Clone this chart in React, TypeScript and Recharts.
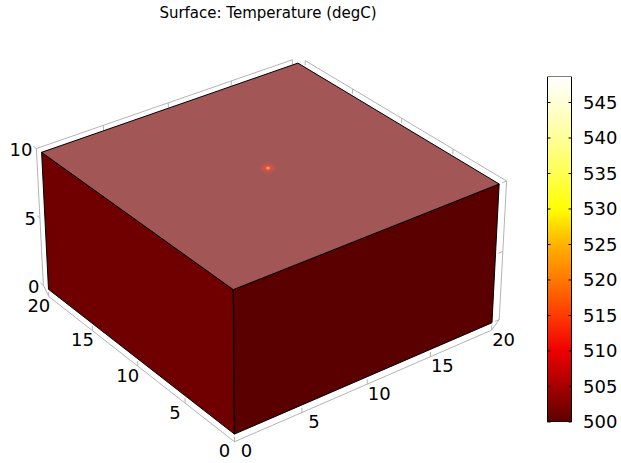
import { ComposedChart, Scatter, XAxis, YAxis, BarChart, Bar } from "recharts";

const W = 621;
const H = 463;

// block geometry
const xRange = [0, 20];
const yRange = [0, 20];
const zRange = [0, 10];

const xTicks = [0, 5, 10, 15, 20];
const yTicks = [0, 5, 10, 15, 20];
const zTicks = [0, 5, 10];

// point heat source on the top surface
const sourcePoint = [10, 10, 10];

// colour legend (degC)
const tempRange = [500, 548.66];
const legendTicks = [500, 505, 510, 515, 520, 525, 530, 535, 540, 545];
const thermalTemps = [500, 505, 510, 515, 520, 525, 530, 535, 540, 545, 548.66];
const thermalColors = [
  "#5c0000", "#a60000", "#ee0000", "#ff3a00", "#ff7800", "#ffb200",
  "#ffff00", "#ffff52", "#ffff98", "#ffffd6", "#ffffff",
];

// camera
const view = { azimuth: 37, elevation: 31, distance: 165, focal: 2653, cx: 268, cy: 238 };
const pad = 0.6;
const zPad = 0.55;
const tickLen = 0.35;

const FONT = "'DejaVu Sans', Verdana, sans-serif";

type P3 = number[];

const [x0, x1] = xRange;
const [y0, y1] = yRange;
const [z0, z1] = zRange;
const mid = [(x0 + x1) / 2, (y0 + y1) / 2, (z0 + z1) / 2];

function project(p: P3, extra: any = {}) {
  const a = (view.azimuth * Math.PI) / 180;
  const e = (view.elevation * Math.PI) / 180;
  const ox = p[0] - mid[0];
  const oy = p[1] - mid[1];
  const oz = p[2] - mid[2];
  const X = ox * Math.cos(a) - oy * Math.sin(a);
  const Y = (ox * Math.sin(a) + oy * Math.cos(a)) * Math.sin(e) + oz * Math.cos(e);
  const Z = view.distance + (ox * Math.sin(a) + oy * Math.cos(a)) * Math.cos(e) - oz * Math.sin(e);
  return { sx: view.cx + (view.focal * X) / Z, sy: view.cy - (view.focal * Y) / Z, ...extra };
}

// visible faces
const topFace = [[x0, y0, z1], [x1, y0, z1], [x1, y1, z1], [x0, y1, z1]].map((p) => project(p));
const leftFace = [[x0, y0, z0], [x0, y1, z0], [x0, y1, z1], [x0, y0, z1]].map((p) => project(p));
const rightFace = [[x0, y0, z0], [x1, y0, z0], [x1, y0, z1], [x0, y0, z1]].map((p) => project(p));

// axis frame, as pairs of points
const segs: P3[][] = [];
segs.push([[x0, y0, z0 - zPad], [x1, y0, z0 - zPad]]);
xTicks.forEach((t) => segs.push([[t, y0, z0 - zPad], [t, y0, z0 - zPad + tickLen]]));
segs.push([[x0, y0, z0 - zPad], [x0, y1, z0 - zPad]]);
yTicks.forEach((t) => segs.push([[x0, t, z0 - zPad], [x0, t, z0 - zPad + tickLen]]));
segs.push([[x1, y0, z0 - zPad], [x1 + pad, y0, z0]]);
segs.push([[x0, y1, z0 - zPad], [x0, y1 + pad, z0]]);
segs.push([[x0, y1 + pad, z0], [x0, y1 + pad, z1]]);
zTicks.forEach((t) => segs.push([[x0, y1 + pad, t], [x0, y1 + pad + tickLen, t]]));
segs.push([[x1 + pad, y0, z0], [x1 + pad, y0, z1]]);
zTicks.forEach((t) => segs.push([[x1 + pad, y0, t], [x1 + pad - tickLen, y0, t]]));
segs.push([[x0, y1 + pad, z1], [x1, y1 + pad, z1]]);
xTicks.forEach((t) => segs.push([[t, y1 + pad, z1], [t, y1 + pad, z1 - tickLen]]));
segs.push([[x1 + pad, y0, z1], [x1 + pad, y1, z1]]);
yTicks.forEach((t) => segs.push([[x1 + pad, t, z1], [x1 + pad, t, z1 - tickLen]]));
const framePts = segs.flat().map((p) => project(p));

const xLabels = xTicks.map((t) => project([t, y0, z0 - zPad], { label: t, dx: 12, dy: 9, anchor: "middle" }));
const yLabels = yTicks.map((t) => project([x0, t, z0 - zPad], { label: t, dx: -10, dy: 9, anchor: "middle" }));
const zLabels = zTicks.map((t) => project([x0, y1 + pad, t], { label: t, dx: -4, dy: 1, anchor: "end" }));
const tickLabels = [...xLabels, ...yLabels, ...zLabels];

const sourcePts = [project(sourcePoint)];

const legendData = [{ name: "T", range: tempRange }];

const face = (fill: string) => (p: any) => (
  <polygon
    points={p.points.map((q: any) => `${q.x},${q.y}`).join(" ")}
    fill={fill}
    stroke="#000"
    strokeWidth={1}
    strokeLinejoin="round"
  />
);

const frameLines = (p: any) => {
  const pts = p.points;
  const out = [];
  for (let i = 0; i + 1 < pts.length; i += 2) {
    out.push(
      <line key={i} x1={pts[i].x} y1={pts[i].y} x2={pts[i + 1].x} y2={pts[i + 1].y} stroke="#b4b4b4" strokeWidth={1} />
    );
  }
  return <g>{out}</g>;
};

const noDot = () => <g />;

const LabelText = (p: any) => (
  <text
    x={p.cx + p.payload.dx}
    y={p.cy + p.payload.dy}
    dy="0.36em"
    textAnchor={p.payload.anchor}
    fontFamily={FONT}
    fontSize={18}
    fill="#000"
  >
    {p.payload.label}
  </text>
);

const SourceGlow = (p: any) => (
  <g>
    <defs>
      <radialGradient id="glow">
        <stop offset="0%" stopColor="#ff4a3a" stopOpacity={0.9} />
        <stop offset="45%" stopColor="#e8504a" stopOpacity={0.5} />
        <stop offset="100%" stopColor="#a35656" stopOpacity={0} />
      </radialGradient>
    </defs>
    <ellipse cx={p.cx} cy={p.cy} rx={11} ry={7} fill="url(#glow)" />
    <ellipse cx={p.cx} cy={p.cy} rx={2} ry={1.5} fill="#ff9a40" />
  </g>
);

const LegendTick = (p: any) => {
  const right = p.x - 11.5;
  const left = right - 24;
  return (
    <g>
      <line x1={left} x2={left + 3} y1={p.y} y2={p.y} stroke="#000" />
      <line x1={right - 3} x2={right} y1={p.y} y2={p.y} stroke="#000" />
      <text x={p.x} y={p.y} dy="0.36em" textAnchor="start" fontFamily={FONT} fontSize={18} fill="#000">
        {p.payload.value}
      </text>
    </g>
  );
};

export default function App() {
  const [tMin, tMax] = tempRange;
  return (
    <div style={{ position: "absolute", left: 0, top: 0, width: W, height: H, background: "#fff" }}>
      <div
        style={{
          position: "absolute",
          left: 0,
          width: 2 * view.cx,
          top: 3,
          textAlign: "center",
          fontFamily: FONT,
          fontSize: 15,
          lineHeight: "20px",
          color: "#000",
        }}
      >
        Surface: Temperature (degC)
      </div>
      <div style={{ position: "absolute", left: 0, top: 0 }}>
        <ComposedChart width={W} height={H} margin={{ top: 0, right: 0, bottom: 0, left: 0 }}>
          <XAxis type="number" dataKey="sx" domain={[0, W]} hide allowDataOverflow />
          <YAxis type="number" dataKey="sy" domain={[0, H]} hide reversed allowDataOverflow />
          <Scatter data={framePts} line={frameLines} shape={noDot} isAnimationActive={false} />
          <Scatter data={leftFace} line={face("#700000")} shape={noDot} isAnimationActive={false} />
          <Scatter data={rightFace} line={face("#5a0000")} shape={noDot} isAnimationActive={false} />
          <Scatter data={topFace} line={face("#a35656")} shape={noDot} isAnimationActive={false} />
          <Scatter data={sourcePts} shape={SourceGlow} isAnimationActive={false} />
          <Scatter data={tickLabels} shape={LabelText} isAnimationActive={false} />
        </ComposedChart>
      </div>
      <div style={{ position: "absolute", left: 0, top: 0 }}>
        <BarChart
          width={W}
          height={H}
          data={legendData}
          barCategoryGap={0}
          margin={{ top: 76.5, right: 4.5, bottom: 41, left: 547.5 }}
        >
          <defs>
            <linearGradient id="thermal" x1="0" y1="1" x2="0" y2="0">
              {thermalTemps.map((t, i) => (
                <stop key={t} offset={`${((t - tMin) / (tMax - tMin)) * 100}%`} stopColor={thermalColors[i]} />
              ))}
            </linearGradient>
          </defs>
          <XAxis dataKey="name" hide />
          <YAxis
            orientation="right"
            width={45}
            domain={[tMin, tMax]}
            ticks={legendTicks}
            allowDataOverflow
            axisLine={false}
            tickLine={false}
            tickSize={0}
            tickMargin={11.5}
            interval={0}
            tick={LegendTick}
          />
          <Bar dataKey="range" fill="url(#thermal)" stroke="#000" strokeWidth={1} isAnimationActive={false} />
        </BarChart>
      </div>
    </div>
  );
}
